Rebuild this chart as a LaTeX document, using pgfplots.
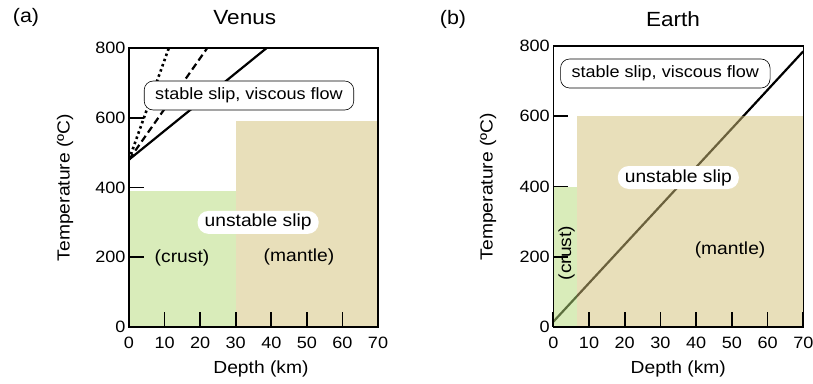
\documentclass[border=0pt]{standalone}
\usepackage{fontspec}
\setmainfont{Liberation Sans}[FakeStretch=1.1]
\usepackage{pgfplots}
\pgfplotsset{compat=1.18}
\definecolor{crustc}{RGB}{180,218,120}
\definecolor{mantlec}{RGB}{210,192,120}
\newcommand\f{\fontsize{16.4}{19}\selectfont}
\newcommand\fl{\fontsize{17.5}{20}\selectfont}
\pgfplotsset{
  myaxis/.style={
    scale only axis, anchor=south west,
    xmin=0, xmax=70, ymin=0, ymax=800,
    xtick={0,10,...,70}, ytick={0,200,...,800},
    yticklabels={{0\hspace{10pt}},200,400,600,800},
    xtick pos=bottom, ytick pos=left, tick align=inside,
    major tick length=15pt,
    axis on top,
    axis line style={line width=1.2pt},
    every tick/.style={black, line width=1.8pt},
    /pgf/number format/assume math mode=true,
    tick label style={font=\f},
    xticklabel style={yshift=-7pt},
    label style={font=\fl},
    title style={font=\fontsize{20.5}{24}\selectfont, anchor=base},
  },
}
\tikzset{
  box/.style={draw=black, line width=0.6pt, fill=white, rounded corners=9pt, minimum height=29pt, inner xsep=11pt, font=\f},
  wbox/.style={fill=white, rounded corners=11pt, minimum height=23pt, inner xsep=7pt, font=\fl},
}
\begin{document}
\begin{tikzpicture}
\useasboundingbox (0,0) rectangle (813pt,383pt);
\node[font=\fontsize{19.5}{22}\selectfont, anchor=base] at (26pt,360pt) {(a)};
\node[font=\fontsize{19.5}{22}\selectfont, anchor=base] at (453pt,358pt) {(b)};
\begin{axis}[myaxis, at={(129pt,56pt)}, width=249pt, height=279pt,
  title={Venus}, title style={at={(axis description cs:0.465,1.0645)}},
  xlabel={Depth (km)}, xlabel style={at={(axis description cs:0.53,-0.151)}, anchor=center},
  ylabel={Temperature (ºC)}, ylabel style={at={(axis description cs:-0.257,0.5)}, anchor=center},
]
\addplot[draw=none, fill=crustc, fill opacity=0.51] coordinates {(0,390) (30,390)} \closedcycle;
\addplot[draw=none, fill=mantlec, fill opacity=0.51] coordinates {(30,590) (70,590)} \closedcycle;
\addplot[black, line width=2.2pt] coordinates {(0,480) (38.7,800)};
\addplot[black, line width=2.2pt, dash pattern=on 7pt off 4pt] coordinates {(0,480) (22,800)};
\addplot[black, line width=2.6pt, dash pattern=on 2.5pt off 3pt] coordinates {(0,480) (11.2,800)};
\node[box] at (axis cs:33.73,663.8) {stable slip, viscous flow};
\node[wbox] at (axis cs:36.3,300) {unstable slip};
\node[font=\fl] at (axis cs:14.9,198) {(crust)};
\node[font=\fl] at (axis cs:47.8,200.7) {(mantle)};
\end{axis}
\begin{axis}[myaxis, at={(553.3pt,56pt)}, width=250pt, height=281pt,
  title={Earth}, title style={at={(axis description cs:0.479,1.047)}},
  xlabel={Depth (km)}, xlabel style={at={(axis description cs:0.5,-0.148)}, anchor=center},
  ylabel={Temperature (ºC)}, ylabel style={at={(axis description cs:-0.261,0.5)}, anchor=center},
]
\addplot[black, line width=2.2pt] coordinates {(0,15) (70,785)};
\addplot[draw=none, fill=crustc, fill opacity=0.51] coordinates {(0,400) (6.7,400)} \closedcycle;
\addplot[draw=none, fill=mantlec, fill opacity=0.51] coordinates {(6.7,600) (70,600)} \closedcycle;
\node[box] at (axis cs:31.36,721.7) {stable slip, viscous flow};
\node[wbox] at (axis cs:35,425.6) {unstable slip};
\node[font=\fl, rotate=90] at (axis cs:3.75,210.7) {(crust)};
\node[font=\fl] at (axis cs:49.5,219) {(mantle)};
\end{axis}
\end{tikzpicture}
\end{document}
